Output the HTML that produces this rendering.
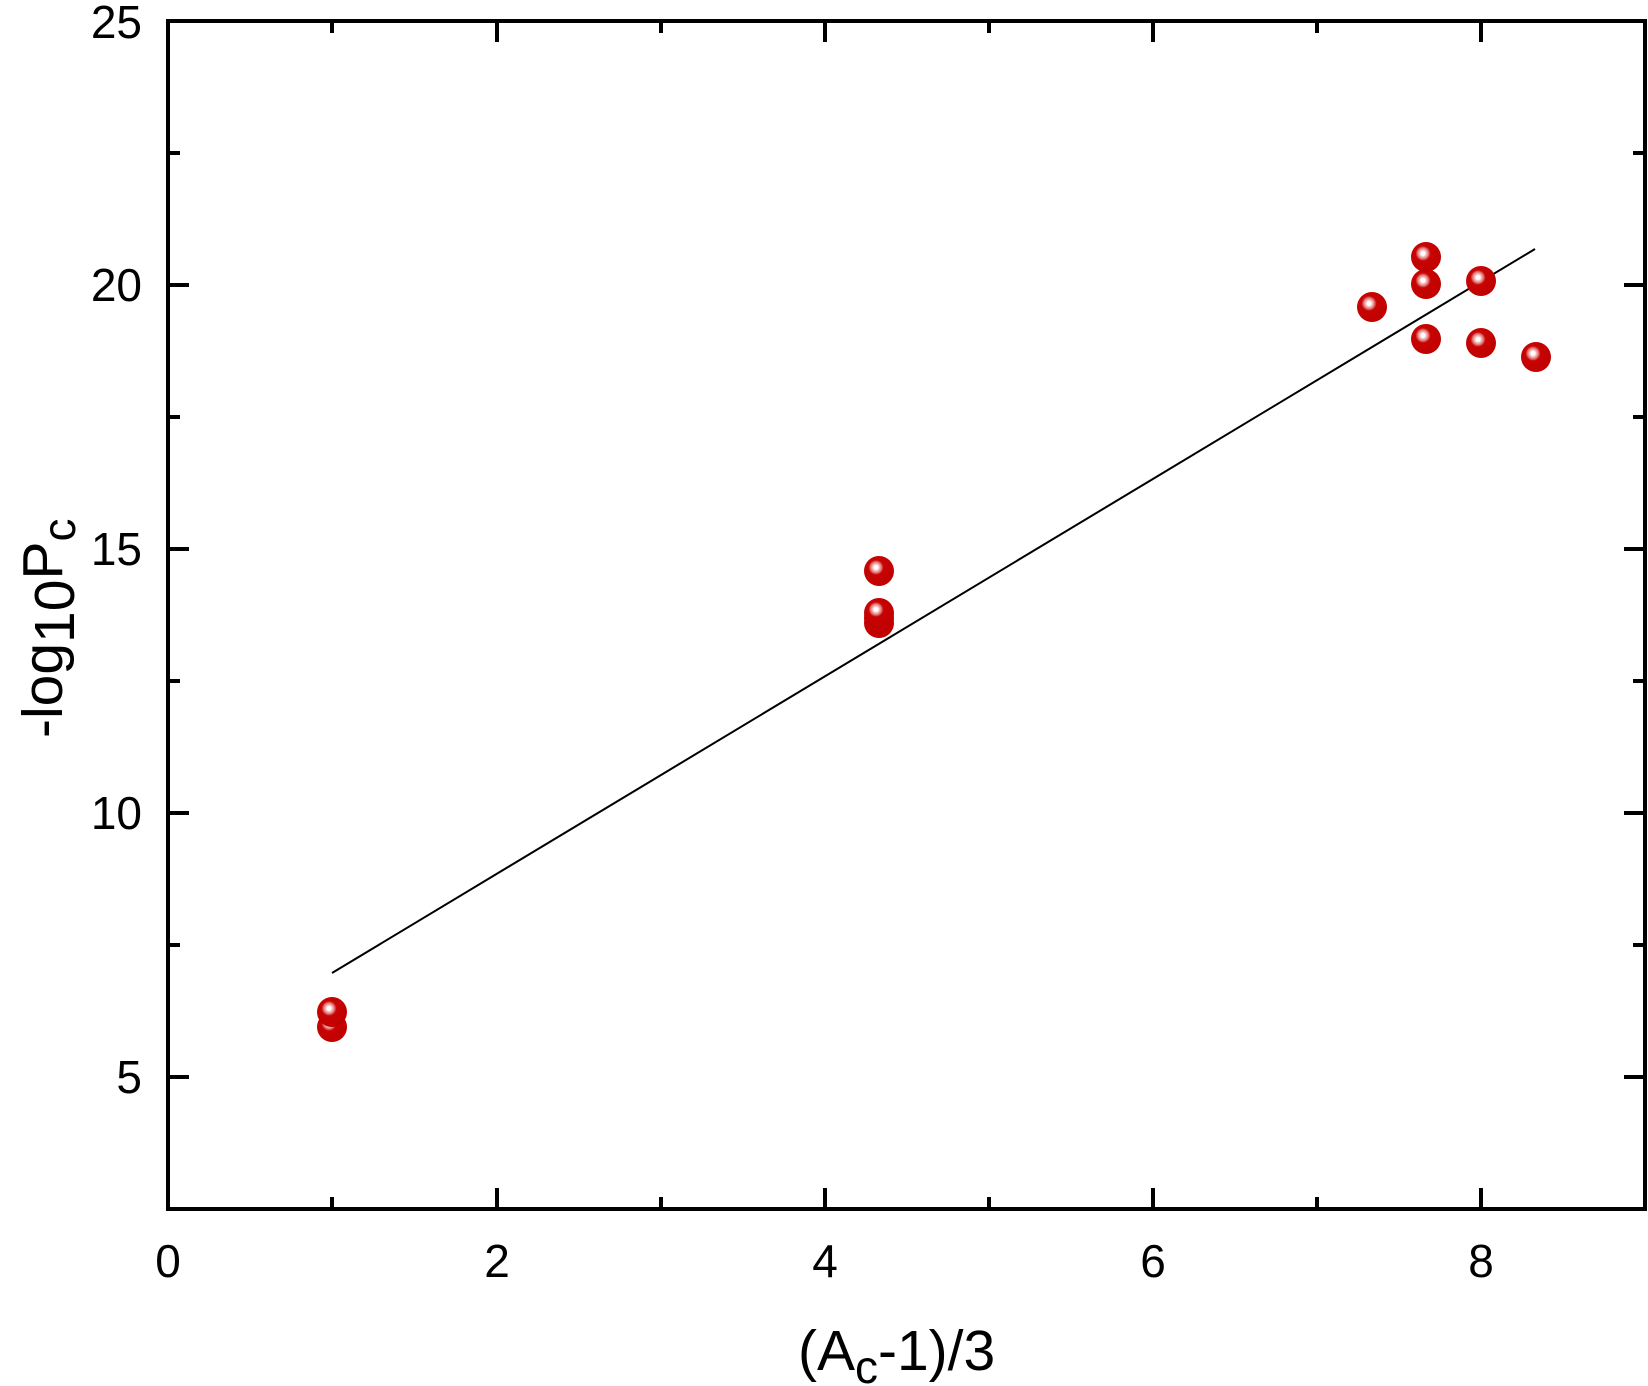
<!DOCTYPE html>
<html><head><meta charset="utf-8"><style>
html,body{margin:0;padding:0;background:#fff;}
svg{display:block;font-family:"Liberation Sans",Arial,sans-serif;}
</style></head><body>
<svg width="1648" height="1386" viewBox="0 0 1648 1386" xmlns="http://www.w3.org/2000/svg">
<defs>
<radialGradient id="ball" cx="0.4" cy="0.38" r="0.62">
<stop offset="0" stop-color="#ffffff"/>
<stop offset="0.1" stop-color="#ffffff"/>
<stop offset="0.2" stop-color="#f2b0b0"/>
<stop offset="0.3" stop-color="#e07070"/>
<stop offset="0.4" stop-color="#c80404"/>
<stop offset="1" stop-color="#c00000"/>
</radialGradient>
</defs>
<g stroke="#000" stroke-width="4" fill="none">
<rect x="168" y="21" width="1477" height="1188"/>
<path d="M332,1209v-12M332,21v12M661,1209v-12M661,21v12M989,1209v-12M989,21v12M1317,1209v-12M1317,21v12
M168,1209v-21M168,21v21M497,1209v-21M497,21v21M825,1209v-21M825,21v21M1153,1209v-21M1153,21v21M1481,1209v-21M1481,21v21"/>
<path d="M168,285h21M1645,285h-21M168,549h21M1645,549h-21M168,813h21M1645,813h-21M168,1077h21M1645,1077h-21
M168,153h12M1645,153h-12M168,417h12M1645,417h-12M168,681h12M1645,681h-12M168,945h12M1645,945h-12"/>
</g>
<line x1="332" y1="973" x2="1535" y2="249" stroke="#000" stroke-width="2"/>
<g fill="url(#ball)">
<circle cx="332" cy="1027" r="15"/>
<circle cx="332" cy="1012" r="15"/>
<circle cx="879" cy="623" r="15"/>
<circle cx="879" cy="618" r="15"/>
<circle cx="879" cy="613" r="15"/>
<circle cx="879" cy="571" r="15"/>
<circle cx="1372" cy="307" r="15"/>
<circle cx="1426" cy="339" r="15"/>
<circle cx="1426" cy="284" r="15"/>
<circle cx="1426" cy="257" r="15"/>
<circle cx="1481" cy="343" r="15"/>
<circle cx="1481" cy="281" r="15"/>
<circle cx="1536" cy="357" r="15"/>
</g>
<g font-size="46" fill="#000" text-anchor="end">
<text x="142" y="301">20</text>
<text x="142" y="565">15</text>
<text x="142" y="829">10</text>
<text x="142" y="1093">5</text>
<text x="142" y="38">25</text>
</g>
<g font-size="46" fill="#000" text-anchor="middle">
<text x="168" y="1277">0</text>
<text x="497" y="1277">2</text>
<text x="825" y="1277">4</text>
<text x="1153" y="1277">6</text>
<text x="1481" y="1277">8</text>
</g>
<text x="798" y="1370" font-size="57" fill="#000">(A<tspan font-size="46" dy="13">c</tspan><tspan dy="-13">-1)/3</tspan></text>
<text transform="translate(62,738) rotate(-90)" font-size="57" fill="#000">-log<tspan dy="12">10</tspan><tspan dy="-12">P</tspan><tspan font-size="46" dy="13">c</tspan></text>
</svg>
</body></html>
